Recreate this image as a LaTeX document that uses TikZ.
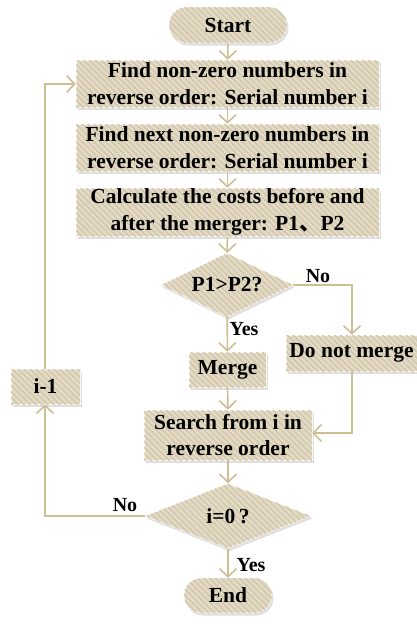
\documentclass[tikz,border=0pt]{standalone}
\usepackage{fontspec}
\setmainfont{Liberation Serif}
\newfontfamily\cjkfont{Noto Sans CJK SC}
\usetikzlibrary{arrows.meta,shapes.geometric,shapes.misc,patterns.meta,shadows}
\definecolor{boxfill}{HTML}{E3DAC5}
\definecolor{stripe}{HTML}{D2C6AA}
\definecolor{linec}{HTML}{CDBE95}
\tikzset{
  base/.style={fill=boxfill, draw=white!85!boxfill, line width=0.6pt,
    postaction={pattern={Lines[angle=-45, distance=4.2pt, line width=1.3pt]}, pattern color=stripe},
    drop shadow={shadow xshift=1.5pt, shadow yshift=-2.5pt, fill=black!25, opacity=0.5},
    font=\bfseries\fontsize{21.5}{26.5}\selectfont, align=center, inner sep=0pt},
  procbox/.style={base, rectangle},
  termbox/.style={base, rounded rectangle},
  decbox/.style={base, diamond},
  conn/.style={draw=linec, line width=1.6pt, -{Straight Barb[length=8pt,width=17pt,line width=1.6pt]}},
  lab/.style={font=\bfseries\fontsize{20}{22}\selectfont}
}
\begin{document}
\begin{tikzpicture}[x=1pt,y=-1pt]
\useasboundingbox (0,0) rectangle (416,624);
\node[termbox, minimum width=118pt, minimum height=36pt] (start) at (228,25) {Start};
\node[procbox, minimum width=303pt, minimum height=47pt] (b1) at (227.5,83.5) {Find non-zero numbers in\\reverse order: Serial number i};
\node[procbox, minimum width=303pt, minimum height=47pt] (b2) at (227.5,147.5) {Find next non-zero numbers in\\reverse order: Serial number i};
\node[procbox, minimum width=303pt, minimum height=48pt] (b3) at (227.5,212) {Calculate the costs before and\\after the merger: P1{\cjkfont 、}P2};
\node[decbox, minimum width=132pt, minimum height=64pt] (d1) at (227,285) {};
\node[font=\bfseries\fontsize{21.5}{24}\selectfont] at (d1) {P1>P2?};
\node[procbox, minimum width=77pt, minimum height=35pt] (merge) at (227.5,369.5) {Merge};
\node[procbox, minimum width=131pt, minimum height=36pt] (nom) at (351.5,353) {Do not merge};
\node[procbox, minimum width=69pt, minimum height=35pt] (im1) at (45.5,386.5) {i-1};
\node[procbox, minimum width=168pt, minimum height=50pt] (search) at (228,435) {Search from i in\\reverse order};
\node[decbox, minimum width=166pt, minimum height=65pt] (d2) at (228,516) {};
\node[font=\bfseries\fontsize{21.5}{24}\selectfont] at (d2) {i=0\,?};
\node[termbox, minimum width=88pt, minimum height=35pt] (end) at (228,595.5) {End};
\coordinate (c1) at (45,84);
\coordinate (c2) at (352,285);
\coordinate (c3) at (352,433);
\coordinate (c4) at (45,516);
\draw[conn] (start) -- (b1);
\draw[conn] (b1) -- (b2);
\draw[conn] (b2) -- (b3);
\draw[conn] (b3) -- (d1);
\draw[conn] (d1) -- (merge);
\draw[conn] (d1.east) -- (c2) -- (nom.north -| c2);
\draw[conn] (merge) -- (search);
\draw[conn] (nom.south -| c3) -- (c3) -- (search.east |- c3);
\draw[conn] (search) -- (d2);
\draw[conn] (d2) -- (end);
\draw[conn] (d2.west) -- (c4) -- (im1.south -| c4);
\draw[conn] (im1.north -| c1) -- (c1) -- (b1.west |- c1);
\node[lab] at (318,276) {No};
\node[lab] at (244,329) {Yes};
\node[lab] at (125,505) {No};
\node[lab] at (251,565) {Yes};
\end{tikzpicture}
\end{document}
